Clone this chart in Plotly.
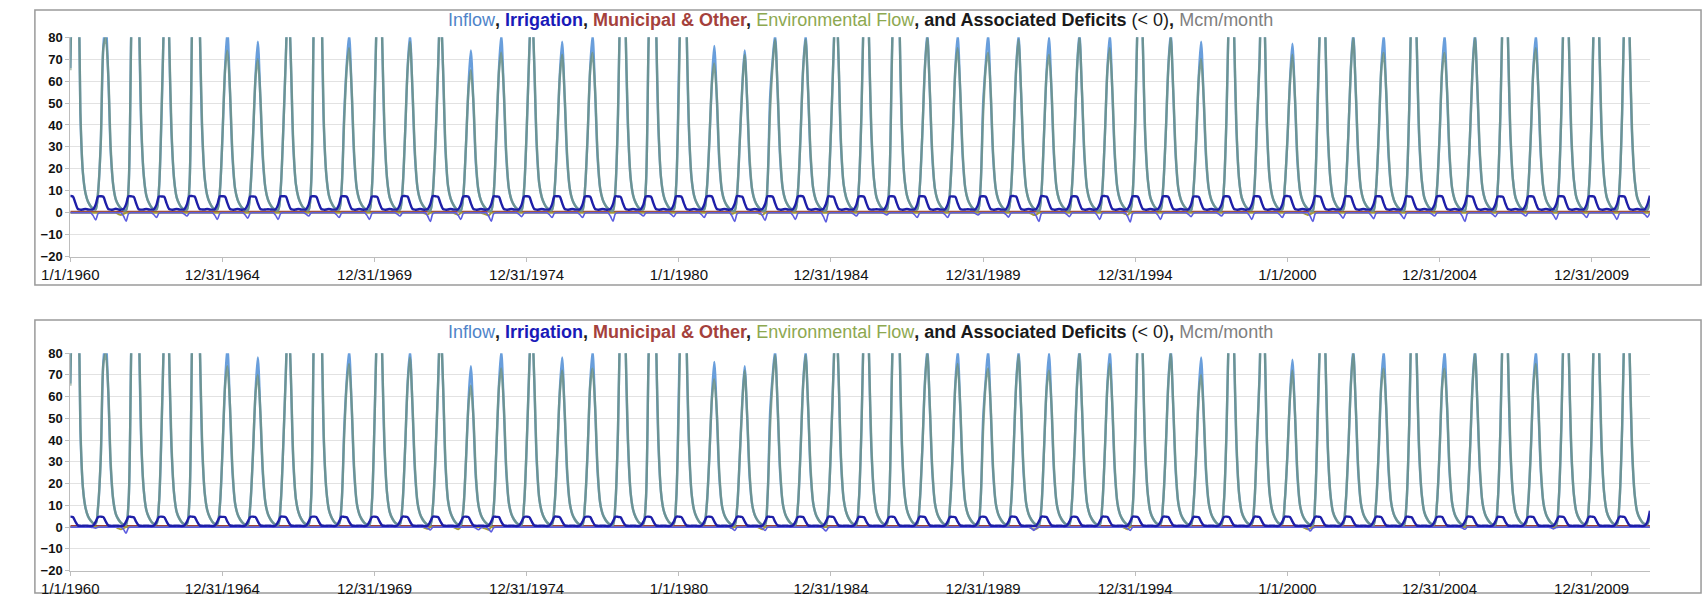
import pandas as pd
import plotly.graph_objects as go

# ---------------------------------------------------------------------------
# Monthly series, Mcm/month, January 1960 - December 2011 (one row per year)
# ---------------------------------------------------------------------------
inflow = [
    [66, 130, 170, 135, 45, 18, 9, 5, 3, 1.8, 1.5, 10],        # 1960
    [32, 76, 86, 62, 27, 12, 6, 3.5, 2, 1.2, 1.2, 12],         # 1961
    [82, 140, 165, 100, 40, 17, 8, 4.5, 2.5, 1.5, 1.5, 11],    # 1962
    [45, 95, 140, 80, 35, 15, 7, 4, 2.2, 1.4, 1.4, 12],        # 1963
    [85, 150, 130, 88, 38, 16, 8, 4.5, 2.5, 1.5, 1.5, 10],     # 1964
    [35, 66, 83, 55, 25, 11, 6, 3.5, 2, 1.2, 1.2, 10],         # 1965
    [33, 62, 78, 52, 24, 11, 6, 3.5, 2, 1.2, 1.2, 11],         # 1966
    [38, 72, 102, 70, 30, 13, 7, 4, 2.2, 1.3, 1.3, 13],        # 1967
    [88, 150, 170, 105, 40, 17, 8, 4.5, 2.5, 1.5, 1.5, 11],    # 1968
    [45, 68, 81, 55, 25, 11, 6, 3.5, 2, 1.2, 1.2, 12],         # 1969
    [50, 100, 130, 80, 35, 15, 7, 4, 2.2, 1.4, 1.4, 10],       # 1970
    [35, 66, 81, 55, 25, 11, 6, 3.5, 2, 1.2, 1.0, 9],          # 1971
    [32, 65, 96, 66, 28, 12, 6.5, 3.8, 2, 1.1, 1.0, 8],        # 1972
    [30, 58, 74, 50, 22, 10, 5.5, 3.2, 1.8, 1, 1.0, 9],        # 1973
    [35, 65, 81, 55, 25, 11, 6, 3.5, 2, 1.2, 1.2, 11],         # 1974
    [38, 74, 100, 68, 30, 13, 7, 4, 2.2, 1.3, 1.3, 10],        # 1975
    [33, 62, 78, 52, 24, 11, 6, 3.5, 2, 1.2, 1.2, 11],         # 1976
    [35, 66, 81, 55, 25, 11, 6, 3.5, 2, 1.2, 1.0, 11],         # 1977
    [45, 110, 150, 85, 38, 16, 8, 4.5, 2.5, 1.5, 1.5, 12],     # 1978
    [75, 130, 160, 90, 38, 16, 8, 4.5, 2.5, 1.5, 1.5, 13],     # 1979
    [63, 120, 160, 88, 38, 16, 8, 4.5, 2.5, 1.5, 1.5, 10],     # 1980
    [32, 60, 76, 52, 23, 10, 5.5, 3.2, 1.8, 1, 0.9, 9],        # 1981
    [32, 58, 74, 50, 22, 10, 5.5, 3.2, 1.8, 1, 1.0, 14],       # 1982
    [53, 70, 81, 55, 25, 11, 6, 3.5, 2, 1.2, 1.2, 10],         # 1983
    [35, 66, 81, 55, 25, 11, 6, 3.5, 2, 1.2, 1.0, 11],         # 1984
    [38, 74, 102, 70, 30, 13, 7, 4, 2.2, 1.3, 1.3, 12],        # 1985
    [45, 100, 130, 80, 35, 15, 7, 4, 2.2, 1.4, 1.4, 13],       # 1986
    [70, 120, 150, 90, 38, 16, 8, 4.5, 2.5, 1.5, 1.5, 11],     # 1987
    [35, 66, 82, 55, 25, 11, 6, 3.5, 2, 1.2, 1.2, 11],         # 1988
    [35, 66, 81, 55, 25, 11, 6, 3.5, 2, 1.2, 1.2, 12],         # 1989
    [50, 68, 81, 55, 25, 11, 6, 3.5, 2, 1.2, 1.2, 10],         # 1990
    [35, 66, 81, 55, 25, 11, 6, 3.5, 2, 1.2, 0.9, 9],          # 1991
    [35, 64, 80, 55, 25, 11, 6, 3.5, 2, 1.2, 1.2, 11],         # 1992
    [35, 66, 82, 55, 25, 11, 6, 3.5, 2, 1.2, 1.0, 10],         # 1993
    [35, 66, 81, 55, 25, 11, 6, 3.5, 2, 1.2, 0.9, 9],          # 1994
    [42, 95, 120, 78, 34, 15, 7, 4, 2.2, 1.4, 1.4, 11],        # 1995
    [35, 66, 82, 55, 25, 11, 6, 3.5, 2, 1.2, 1.2, 11],         # 1996
    [33, 62, 78, 52, 24, 11, 6, 3.5, 2, 1.2, 1.2, 12],         # 1997
    [45, 100, 130, 82, 36, 15, 7, 4, 2.2, 1.4, 1.4, 11],       # 1998
    [40, 70, 112, 88, 38, 16, 8, 4.5, 2.5, 1.5, 1.5, 12],      # 1999
    [33, 60, 77, 52, 23, 10, 5.5, 3.2, 1.8, 1, 0.9, 14],       # 2000
    [55, 95, 125, 80, 35, 15, 7, 4, 2.2, 1.4, 1.4, 11],        # 2001
    [35, 66, 82, 55, 25, 11, 6, 3.5, 2, 1.2, 1.0, 11],         # 2002
    [35, 66, 81, 55, 25, 11, 6, 3.5, 2, 1.2, 1.0, 11],         # 2003
    [45, 100, 120, 78, 34, 15, 7, 4, 2.2, 1.4, 1.4, 11],       # 2004
    [35, 66, 81, 55, 25, 11, 6, 3.5, 2, 1.2, 0.9, 11],         # 2005
    [35, 66, 82, 55, 25, 11, 6, 3.5, 2, 1.2, 1.2, 12],         # 2006
    [45, 100, 125, 80, 35, 15, 7, 4, 2.2, 1.4, 1.4, 11],       # 2007
    [35, 66, 81, 55, 25, 11, 6, 3.5, 2, 1.2, 1.0, 12],         # 2008
    [45, 100, 125, 80, 35, 15, 7, 4, 2.2, 1.4, 1.4, 12],       # 2009
    [45, 100, 125, 80, 35, 15, 7, 4, 2.2, 1.4, 1.4, 12],       # 2010
    [45, 100, 125, 80, 35, 15, 7, 4, 2.2, 1.4, 1.4, 6],        # 2011
]

environmental_flow = [
    [65, 128, 167, 133, 47, 18, 9, 5, 3, 1.8, 1.5, 10],
    [32, 75, 80, 63, 29, 12, 6, 3.5, 2, 1.2, 1.2, 12],
    [80, 138, 162, 101, 42, 17, 8, 4.5, 2.5, 1.5, 1.5, 11],
    [47, 93, 138, 82, 37, 15, 7, 4, 2.2, 1.4, 1.4, 12],
    [84, 148, 128, 90, 40, 16, 8, 4.5, 2.5, 1.5, 1.5, 10],
    [35, 65, 74, 56, 27, 11, 6, 3.5, 2, 1.2, 1.2, 10],
    [33, 61, 70, 53, 26, 11, 6, 3.5, 2, 1.2, 1.2, 11],
    [38, 71, 100, 71, 32, 13, 7, 4, 2.2, 1.3, 1.3, 13],
    [86, 148, 168, 106, 42, 17, 8, 4.5, 2.5, 1.5, 1.5, 11],
    [42, 66, 75, 56, 27, 11, 6, 3.5, 2, 1.2, 1.2, 12],
    [50, 98, 128, 81, 37, 15, 7, 4, 2.2, 1.4, 1.4, 10],
    [35, 65, 78, 56, 27, 11, 6, 3.5, 2, 1.2, 1.0, 9],
    [32, 64, 94, 67, 30, 12, 6.5, 3.8, 2, 1.1, 1.0, 8],
    [30, 56, 65, 51, 24, 10, 5.5, 3.2, 1.8, 1, 1.0, 9],
    [35, 64, 73, 56, 27, 11, 6, 3.5, 2, 1.2, 1.2, 11],
    [38, 73, 98, 69, 32, 13, 7, 4, 2.2, 1.3, 1.3, 10],
    [33, 61, 72, 53, 26, 11, 6, 3.5, 2, 1.2, 1.2, 11],
    [35, 65, 73, 56, 27, 11, 6, 3.5, 2, 1.2, 1.0, 11],
    [45, 108, 148, 86, 40, 16, 8, 4.5, 2.5, 1.5, 1.5, 12],
    [74, 128, 158, 91, 40, 16, 8, 4.5, 2.5, 1.5, 1.5, 13],
    [56, 118, 158, 89, 40, 16, 8, 4.5, 2.5, 1.5, 1.5, 10],
    [32, 59, 68, 53, 25, 10, 5.5, 3.2, 1.8, 1, 0.9, 9],
    [32, 57, 72, 51, 24, 10, 5.5, 3.2, 1.8, 1, 1.0, 14],
    [47, 68, 79, 56, 27, 11, 6, 3.5, 2, 1.2, 1.2, 10],
    [35, 65, 79, 56, 27, 11, 6, 3.5, 2, 1.2, 1.0, 11],
    [38, 73, 100, 71, 32, 13, 7, 4, 2.2, 1.3, 1.3, 12],
    [45, 98, 128, 81, 37, 15, 7, 4, 2.2, 1.4, 1.4, 13],
    [68, 118, 148, 91, 40, 16, 8, 4.5, 2.5, 1.5, 1.5, 11],
    [35, 65, 80, 56, 27, 11, 6, 3.5, 2, 1.2, 1.2, 11],
    [35, 65, 75, 56, 27, 11, 6, 3.5, 2, 1.2, 1.2, 12],
    [45, 66, 73, 56, 27, 11, 6, 3.5, 2, 1.2, 1.2, 10],
    [35, 65, 79, 56, 27, 11, 6, 3.5, 2, 1.2, 0.9, 9],
    [35, 63, 72, 56, 27, 11, 6, 3.5, 2, 1.2, 1.2, 11],
    [35, 65, 80, 56, 27, 11, 6, 3.5, 2, 1.2, 1.0, 10],
    [35, 65, 75, 56, 27, 11, 6, 3.5, 2, 1.2, 0.9, 9],
    [42, 93, 118, 79, 36, 15, 7, 4, 2.2, 1.4, 1.4, 11],
    [35, 65, 80, 56, 27, 11, 6, 3.5, 2, 1.2, 1.2, 11],
    [33, 61, 70, 53, 26, 11, 6, 3.5, 2, 1.2, 1.2, 12],
    [45, 98, 128, 83, 38, 15, 7, 4, 2.2, 1.4, 1.4, 11],
    [40, 69, 110, 89, 40, 16, 8, 4.5, 2.5, 1.5, 1.5, 12],
    [33, 59, 72, 53, 25, 10, 5.5, 3.2, 1.8, 1, 0.9, 14],
    [52, 93, 123, 81, 37, 15, 7, 4, 2.2, 1.4, 1.4, 11],
    [35, 65, 80, 56, 27, 11, 6, 3.5, 2, 1.2, 1.0, 11],
    [35, 65, 73, 56, 27, 11, 6, 3.5, 2, 1.2, 1.0, 11],
    [45, 98, 118, 79, 36, 15, 7, 4, 2.2, 1.4, 1.4, 11],
    [35, 65, 73, 56, 27, 11, 6, 3.5, 2, 1.2, 0.9, 11],
    [35, 65, 80, 56, 27, 11, 6, 3.5, 2, 1.2, 1.2, 12],
    [45, 98, 123, 81, 37, 15, 7, 4, 2.2, 1.4, 1.4, 11],
    [35, 65, 75, 56, 27, 11, 6, 3.5, 2, 1.2, 1.0, 12],
    [45, 98, 123, 81, 37, 15, 7, 4, 2.2, 1.4, 1.4, 12],
    [45, 98, 123, 81, 37, 15, 7, 4, 2.2, 1.4, 1.4, 12],
    [45, 98, 123, 81, 37, 15, 7, 4, 2.2, 1.4, 1.4, 6],
]

# Scenario 1 (upper chart): irrigation demand and its deficit
irrigation_1 = [
    [7.6, 7.4, 4.6, 1.7, 1.4, 1.5, 1.7, 1.5, 1.4, 1.6, 3.8, 7.4],
    [7.5, 7.3, 4.4, 1.7, 1.4, 1.5, 1.8, 1.5, 1.4, 1.7, 3.9, 7.5],
    [7.5, 7.2, 4.3, 1.6, 1.4, 1.5, 1.7, 1.5, 1.4, 1.6, 3.7, 7.4],
    [7.4, 7.3, 4.4, 1.7, 1.4, 1.5, 1.7, 1.5, 1.4, 1.6, 3.8, 7.5],
    [7.6, 7.4, 4.5, 1.7, 1.5, 1.5, 1.7, 1.5, 1.4, 1.6, 3.9, 7.5],
    [7.5, 7.3, 4.4, 1.7, 1.4, 1.5, 1.7, 1.5, 1.4, 1.7, 3.8, 7.4],
    [7.4, 7.2, 4.3, 1.7, 1.4, 1.5, 1.6, 1.5, 1.4, 1.6, 3.8, 7.5],
    [7.5, 7.4, 4.5, 1.7, 1.4, 1.5, 1.7, 1.5, 1.4, 1.6, 3.7, 7.4],
    [7.5, 7.3, 4.4, 1.7, 1.4, 1.5, 1.7, 1.5, 1.4, 1.6, 3.8, 7.5],
    [7.5, 7.3, 4.4, 1.7, 1.4, 1.5, 1.7, 1.5, 1.4, 1.7, 3.9, 7.4],
    [7.4, 7.2, 4.3, 1.7, 1.4, 1.5, 1.7, 1.5, 1.4, 1.6, 3.8, 7.5],
    [7.6, 7.4, 4.5, 1.7, 1.4, 1.5, 1.7, 1.5, 1.4, 1.7, 4.0, 7.6],
    [7.5, 7.3, 4.4, 1.7, 1.4, 1.5, 1.7, 1.5, 1.4, 1.6, 3.8, 7.4],
    [7.5, 7.3, 4.4, 1.7, 1.4, 1.5, 1.7, 1.5, 1.4, 1.7, 3.9, 7.5],
    [7.4, 7.3, 4.4, 1.7, 1.4, 1.5, 1.7, 1.5, 1.4, 1.6, 3.7, 7.4],
    [7.5, 7.3, 4.4, 1.7, 1.4, 1.5, 1.7, 1.5, 1.4, 1.6, 3.8, 7.5],
    [7.5, 7.4, 4.5, 1.7, 1.4, 1.5, 1.7, 1.5, 1.4, 1.6, 3.8, 7.4],
    [7.5, 7.3, 4.4, 1.7, 1.4, 1.5, 1.7, 1.5, 1.4, 1.7, 3.9, 7.5],
    [7.4, 7.2, 4.3, 1.7, 1.4, 1.5, 1.7, 1.5, 1.4, 1.6, 3.7, 7.4],
    [7.5, 7.3, 4.4, 1.7, 1.4, 1.5, 1.7, 1.5, 1.4, 1.6, 3.8, 7.5],
    [7.5, 7.3, 4.4, 1.7, 1.4, 1.5, 1.7, 1.5, 1.4, 1.6, 3.8, 7.4],
    [7.6, 7.4, 4.5, 1.7, 1.4, 1.5, 1.7, 1.5, 1.4, 1.7, 4.0, 7.6],
    [7.5, 7.3, 4.4, 1.7, 1.4, 1.5, 1.7, 1.5, 1.4, 1.7, 3.9, 7.5],
    [7.5, 7.3, 4.4, 1.7, 1.4, 1.5, 1.7, 1.5, 1.4, 1.6, 3.8, 7.4],
    [7.6, 7.4, 4.5, 1.7, 1.4, 1.5, 1.7, 1.5, 1.4, 1.7, 4.0, 7.5],
    [7.4, 7.2, 4.3, 1.7, 1.4, 1.5, 1.7, 1.5, 1.4, 1.6, 3.7, 7.4],
    [7.5, 7.3, 4.4, 1.7, 1.4, 1.5, 1.6, 1.5, 1.4, 1.6, 3.7, 7.4],
    [7.5, 7.3, 4.4, 1.7, 1.4, 1.5, 1.7, 1.5, 1.4, 1.6, 3.8, 7.5],
    [7.5, 7.3, 4.4, 1.7, 1.4, 1.5, 1.7, 1.5, 1.4, 1.6, 3.8, 7.4],
    [7.4, 7.2, 4.3, 1.7, 1.4, 1.5, 1.6, 1.5, 1.4, 1.6, 3.7, 7.4],
    [7.5, 7.3, 4.4, 1.7, 1.4, 1.5, 1.7, 1.5, 1.4, 1.6, 3.8, 7.5],
    [7.6, 7.4, 4.5, 1.7, 1.4, 1.5, 1.7, 1.5, 1.4, 1.7, 4.0, 7.6],
    [7.5, 7.3, 4.4, 1.7, 1.4, 1.5, 1.7, 1.5, 1.4, 1.6, 3.8, 7.4],
    [7.5, 7.3, 4.4, 1.7, 1.4, 1.5, 1.7, 1.5, 1.4, 1.7, 3.9, 7.5],
    [7.6, 7.4, 4.5, 1.7, 1.4, 1.5, 1.7, 1.5, 1.4, 1.7, 4.0, 7.5],
    [7.5, 7.3, 4.4, 1.7, 1.4, 1.5, 1.7, 1.5, 1.4, 1.7, 3.9, 7.5],
    [7.5, 7.3, 4.4, 1.7, 1.4, 1.5, 1.7, 1.5, 1.4, 1.6, 3.8, 7.4],
    [7.4, 7.2, 4.3, 1.7, 1.4, 1.5, 1.7, 1.5, 1.4, 1.6, 3.7, 7.4],
    [7.5, 7.3, 4.4, 1.7, 1.4, 1.5, 1.7, 1.5, 1.4, 1.7, 3.9, 7.5],
    [7.5, 7.3, 4.4, 1.7, 1.4, 1.5, 1.7, 1.5, 1.4, 1.6, 3.8, 7.5],
    [7.6, 7.4, 4.5, 1.7, 1.4, 1.5, 1.7, 1.5, 1.4, 1.7, 4.0, 7.6],
    [7.5, 7.3, 4.4, 1.7, 1.4, 1.5, 1.7, 1.5, 1.4, 1.6, 3.8, 7.5],
    [7.5, 7.3, 4.4, 1.7, 1.4, 1.5, 1.7, 1.5, 1.4, 1.6, 3.9, 7.5],
    [7.5, 7.3, 4.4, 1.7, 1.4, 1.5, 1.7, 1.5, 1.4, 1.6, 3.9, 7.5],
    [7.4, 7.2, 4.3, 1.7, 1.4, 1.5, 1.7, 1.5, 1.4, 1.6, 3.7, 7.4],
    [7.6, 7.4, 4.5, 1.7, 1.4, 1.5, 1.7, 1.5, 1.4, 1.7, 4.0, 7.6],
    [7.5, 7.3, 4.4, 1.7, 1.4, 1.5, 1.7, 1.5, 1.4, 1.6, 3.8, 7.4],
    [7.4, 7.2, 4.3, 1.7, 1.4, 1.5, 1.7, 1.5, 1.4, 1.6, 3.7, 7.4],
    [7.5, 7.3, 4.4, 1.7, 1.4, 1.5, 1.7, 1.5, 1.4, 1.7, 3.9, 7.5],
    [7.5, 7.3, 4.4, 1.7, 1.4, 1.5, 1.7, 1.5, 1.4, 1.6, 3.8, 7.5],
    [7.5, 7.3, 4.4, 1.7, 1.4, 1.5, 1.7, 1.5, 1.4, 1.7, 3.9, 7.5],
    [7.5, 7.3, 4.4, 1.7, 1.4, 1.5, 1.7, 1.5, 1.4, 1.6, 3.8, 7.8],
]

irrigation_deficit_1 = [
    [0, 0, 0, 0, 0, 0, 0, 0, 0, -1.3, -3.3, -0.3],
    [0, 0, 0, 0, 0, 0, 0, 0, 0, -1.5, -3.8, -0.4],
    [0, 0, 0, 0, 0, 0, 0, 0, 0, -0.9, -2.2, -0.2],
    [0, 0, 0, 0, 0, 0, 0, 0, 0, -0.6, -1.5, -0.1],
    [0, 0, 0, 0, 0, 0, 0, 0, 0, -1.2, -3.0, -0.3],
    [0, 0, 0, 0, 0, 0, 0, 0, 0, -1.0, -2.5, -0.2],
    [0, 0, 0, 0, 0, 0, 0, 0, 0, -1.2, -3.0, -0.3],
    [0, 0, 0, 0, 0, 0, 0, 0, 0, -0.6, -1.5, -0.1],
    [0, 0, 0, 0, 0, 0, 0, 0, 0, -0.9, -2.2, -0.2],
    [0, 0, 0, 0, 0, 0, 0, 0, 0, -1.2, -3.0, -0.3],
    [0, 0, 0, 0, 0, 0, 0, 0, 0, -0.6, -1.5, -0.1],
    [0, 0, 0, 0, 0, 0, 0, 0, 0, -1.6, -4.0, -0.4],
    [0, 0, 0, 0, 0, 0, 0, 0, 0, -1.2, -3.0, -0.3],
    [0, 0, 0, 0, 0, 0, 0, 0, 0, -1.5, -3.8, -0.4],
    [0, 0, 0, 0, 0, 0, 0, 0, 0, -0.7, -1.8, -0.2],
    [0, 0, 0, 0, 0, 0, 0, 0, 0, -0.9, -2.2, -0.2],
    [0, 0, 0, 0, 0, 0, 0, 0, 0, -0.9, -2.2, -0.2],
    [0, 0, 0, 0, 0, 0, 0, 0, 0, -1.5, -3.8, -0.4],
    [0, 0, 0, 0, 0, 0, 0, 0, 0, -0.6, -1.5, -0.1],
    [0, 0, 0, 0, 0, 0, 0, 0, 0, -0.7, -1.8, -0.2],
    [0, 0, 0, 0, 0, 0, 0, 0, 0, -0.9, -2.2, -0.2],
    [0, 0, 0, 0, 0, 0, 0, 0, 0, -1.6, -4.0, -0.4],
    [0, 0, 0, 0, 0, 0, 0, 0, 0, -1.4, -3.5, -0.3],
    [0, 0, 0, 0, 0, 0, 0, 0, 0, -1.2, -3.0, -0.3],
    [0, 0, 0, 0, 0, 0, 0, 0, 0, -1.7, -4.2, -0.4],
    [0, 0, 0, 0, 0, 0, 0, 0, 0, -0.6, -1.5, -0.1],
    [0, 0, 0, 0, 0, 0, 0, 0, 0, -0.4, -1.0, -0.1],
    [0, 0, 0, 0, 0, 0, 0, 0, 0, -0.9, -2.2, -0.2],
    [0, 0, 0, 0, 0, 0, 0, 0, 0, -0.9, -2.2, -0.2],
    [0, 0, 0, 0, 0, 0, 0, 0, 0, -0.4, -1.0, -0.1],
    [0, 0, 0, 0, 0, 0, 0, 0, 0, -0.8, -2.0, -0.2],
    [0, 0, 0, 0, 0, 0, 0, 0, 0, -1.6, -4.0, -0.4],
    [0, 0, 0, 0, 0, 0, 0, 0, 0, -0.7, -1.8, -0.2],
    [0, 0, 0, 0, 0, 0, 0, 0, 0, -1.2, -3.0, -0.3],
    [0, 0, 0, 0, 0, 0, 0, 0, 0, -1.7, -4.2, -0.4],
    [0, 0, 0, 0, 0, 0, 0, 0, 0, -1.2, -3.0, -0.3],
    [0, 0, 0, 0, 0, 0, 0, 0, 0, -0.7, -1.8, -0.2],
    [0, 0, 0, 0, 0, 0, 0, 0, 0, -0.6, -1.5, -0.1],
    [0, 0, 0, 0, 0, 0, 0, 0, 0, -1.2, -3.0, -0.3],
    [0, 0, 0, 0, 0, 0, 0, 0, 0, -0.9, -2.2, -0.2],
    [0, 0, 0, 0, 0, 0, 0, 0, 0, -1.6, -4.0, -0.4],
    [0, 0, 0, 0, 0, 0, 0, 0, 0, -1.0, -2.5, -0.2],
    [0, 0, 0, 0, 0, 0, 0, 0, 0, -1.1, -2.7, -0.3],
    [0, 0, 0, 0, 0, 0, 0, 0, 0, -1.1, -2.7, -0.3],
    [0, 0, 0, 0, 0, 0, 0, 0, 0, -0.6, -1.5, -0.1],
    [0, 0, 0, 0, 0, 0, 0, 0, 0, -1.6, -4.0, -0.4],
    [0, 0, 0, 0, 0, 0, 0, 0, 0, -0.7, -1.8, -0.2],
    [0, 0, 0, 0, 0, 0, 0, 0, 0, -0.6, -1.5, -0.1],
    [0, 0, 0, 0, 0, 0, 0, 0, 0, -1.2, -3.0, -0.3],
    [0, 0, 0, 0, 0, 0, 0, 0, 0, -0.9, -2.2, -0.2],
    [0, 0, 0, 0, 0, 0, 0, 0, 0, -1.2, -3.0, -0.3],
    [0, 0, 0, 0, 0, 0, 0, 0, 0, -0.8, -2.0, -0.2],
]

# Scenario 2 (lower chart): reduced irrigation demand and its deficit
irrigation_2 = [
    [4.8, 4.6, 2.6, 0.8, 0.6, 0.6, 0.7, 0.6, 0.5, 0.7, 2.5, 4.7],
    [4.8, 4.6, 2.6, 0.8, 0.6, 0.6, 0.7, 0.6, 0.5, 0.7, 2.6, 4.8],
    [4.7, 4.5, 2.5, 0.8, 0.6, 0.6, 0.7, 0.6, 0.5, 0.7, 2.5, 4.7],
    [4.8, 4.6, 2.6, 0.8, 0.6, 0.6, 0.7, 0.6, 0.5, 0.7, 2.5, 4.8],
    [4.8, 4.6, 2.6, 0.8, 0.6, 0.6, 0.7, 0.6, 0.5, 0.7, 2.6, 4.7],
    [4.7, 4.6, 2.5, 0.8, 0.6, 0.6, 0.7, 0.6, 0.5, 0.7, 2.5, 4.7],
    [4.8, 4.6, 2.6, 0.8, 0.6, 0.6, 0.7, 0.6, 0.5, 0.7, 2.5, 4.8],
    [4.8, 4.6, 2.6, 0.8, 0.6, 0.6, 0.7, 0.6, 0.5, 0.7, 2.5, 4.7],
    [4.8, 4.7, 2.6, 0.8, 0.6, 0.6, 0.7, 0.6, 0.5, 0.7, 2.6, 4.8],
    [4.7, 4.5, 2.5, 0.8, 0.6, 0.6, 0.7, 0.6, 0.5, 0.7, 2.5, 4.7],
    [4.8, 4.6, 2.6, 0.8, 0.6, 0.6, 0.7, 0.6, 0.5, 0.7, 2.5, 4.8],
    [4.8, 4.6, 2.6, 0.8, 0.6, 0.6, 0.7, 0.6, 0.5, 0.7, 2.6, 4.8],
    [4.8, 4.6, 2.6, 0.8, 0.6, 0.6, 0.7, 0.6, 0.5, 0.7, 2.5, 4.7],
    [4.8, 4.6, 2.6, 0.8, 0.6, 0.6, 0.7, 0.6, 0.5, 0.7, 2.6, 4.8],
    [4.7, 4.6, 2.5, 0.8, 0.6, 0.6, 0.7, 0.6, 0.5, 0.7, 2.5, 4.7],
    [4.8, 4.6, 2.6, 0.8, 0.6, 0.6, 0.7, 0.6, 0.5, 0.7, 2.5, 4.8],
    [4.8, 4.6, 2.6, 0.8, 0.6, 0.6, 0.7, 0.6, 0.5, 0.7, 2.5, 4.7],
    [4.8, 4.7, 2.6, 0.8, 0.6, 0.6, 0.7, 0.6, 0.5, 0.7, 2.6, 4.8],
    [4.7, 4.5, 2.5, 0.8, 0.6, 0.6, 0.7, 0.6, 0.5, 0.7, 2.5, 4.7],
    [4.8, 4.6, 2.6, 0.8, 0.6, 0.6, 0.7, 0.6, 0.5, 0.7, 2.5, 4.8],
    [4.8, 4.6, 2.6, 0.8, 0.6, 0.6, 0.7, 0.6, 0.5, 0.7, 2.5, 4.7],
    [4.8, 4.6, 2.6, 0.8, 0.6, 0.6, 0.7, 0.6, 0.5, 0.7, 2.6, 4.8],
    [4.8, 4.6, 2.6, 0.8, 0.6, 0.6, 0.7, 0.6, 0.5, 0.7, 2.6, 4.8],
    [4.7, 4.6, 2.5, 0.8, 0.6, 0.6, 0.7, 0.6, 0.5, 0.7, 2.5, 4.7],
    [4.8, 4.6, 2.6, 0.8, 0.6, 0.6, 0.7, 0.6, 0.5, 0.7, 2.6, 4.8],
    [4.8, 4.6, 2.6, 0.8, 0.6, 0.6, 0.7, 0.6, 0.5, 0.7, 2.5, 4.7],
    [4.7, 4.5, 2.5, 0.8, 0.6, 0.6, 0.7, 0.6, 0.5, 0.7, 2.5, 4.7],
    [4.8, 4.6, 2.6, 0.8, 0.6, 0.6, 0.7, 0.6, 0.5, 0.7, 2.5, 4.8],
    [4.8, 4.6, 2.6, 0.8, 0.6, 0.6, 0.7, 0.6, 0.5, 0.7, 2.5, 4.7],
    [4.7, 4.5, 2.5, 0.8, 0.6, 0.6, 0.7, 0.6, 0.5, 0.7, 2.5, 4.7],
    [4.8, 4.6, 2.6, 0.8, 0.6, 0.6, 0.7, 0.6, 0.5, 0.7, 2.5, 4.8],
    [4.8, 4.6, 2.6, 0.8, 0.6, 0.6, 0.7, 0.6, 0.5, 0.7, 2.6, 4.8],
    [4.8, 4.6, 2.6, 0.8, 0.6, 0.6, 0.7, 0.6, 0.5, 0.7, 2.5, 4.7],
    [4.8, 4.6, 2.6, 0.8, 0.6, 0.6, 0.7, 0.6, 0.5, 0.7, 2.6, 4.8],
    [4.8, 4.7, 2.6, 0.8, 0.6, 0.6, 0.7, 0.6, 0.5, 0.7, 2.6, 4.8],
    [4.8, 4.6, 2.6, 0.8, 0.6, 0.6, 0.7, 0.6, 0.5, 0.7, 2.5, 4.8],
    [4.8, 4.6, 2.6, 0.8, 0.6, 0.6, 0.7, 0.6, 0.5, 0.7, 2.5, 4.7],
    [4.7, 4.5, 2.5, 0.8, 0.6, 0.6, 0.7, 0.6, 0.5, 0.7, 2.5, 4.7],
    [4.8, 4.6, 2.6, 0.8, 0.6, 0.6, 0.7, 0.6, 0.5, 0.7, 2.6, 4.8],
    [4.8, 4.6, 2.6, 0.8, 0.6, 0.6, 0.7, 0.6, 0.5, 0.7, 2.5, 4.8],
    [4.8, 4.7, 2.6, 0.8, 0.6, 0.6, 0.7, 0.6, 0.5, 0.7, 2.6, 4.8],
    [4.8, 4.6, 2.6, 0.8, 0.6, 0.6, 0.7, 0.6, 0.5, 0.7, 2.5, 4.8],
    [4.8, 4.6, 2.6, 0.8, 0.6, 0.6, 0.7, 0.6, 0.5, 0.7, 2.6, 4.8],
    [4.8, 4.6, 2.6, 0.8, 0.6, 0.6, 0.7, 0.6, 0.5, 0.7, 2.6, 4.8],
    [4.7, 4.5, 2.5, 0.8, 0.6, 0.6, 0.7, 0.6, 0.5, 0.7, 2.5, 4.7],
    [4.8, 4.7, 2.6, 0.8, 0.6, 0.6, 0.7, 0.6, 0.5, 0.7, 2.6, 4.8],
    [4.8, 4.6, 2.6, 0.8, 0.6, 0.6, 0.7, 0.6, 0.5, 0.7, 2.5, 4.7],
    [4.7, 4.5, 2.5, 0.8, 0.6, 0.6, 0.7, 0.6, 0.5, 0.7, 2.5, 4.7],
    [4.8, 4.6, 2.6, 0.8, 0.6, 0.6, 0.7, 0.6, 0.5, 0.7, 2.6, 4.8],
    [4.8, 4.6, 2.6, 0.8, 0.6, 0.6, 0.7, 0.6, 0.5, 0.7, 2.5, 4.8],
    [4.8, 4.6, 2.6, 0.8, 0.6, 0.6, 0.7, 0.6, 0.5, 0.7, 2.6, 4.8],
    [4.8, 4.6, 2.6, 0.8, 0.6, 0.6, 0.7, 0.6, 0.5, 0.7, 2.5, 7.5],
]

irrigation_deficit_2 = [
    [0, 0, 0, 0, 0, 0, 0, 0, 0, -0.2, -0.5, 0],
    [0, 0, 0, 0, 0, 0, 0, 0, 0, -1.0, -2.8, -0.2],
    [0, 0, 0, 0, 0, 0, 0, 0, 0, 0, 0, 0],
    [0, 0, 0, 0, 0, 0, 0, 0, 0, 0, 0, 0],
    [0, 0, 0, 0, 0, 0, 0, 0, 0, 0, 0, 0],
    [0, 0, 0, 0, 0, 0, 0, 0, 0, 0, 0, 0],
    [0, 0, 0, 0, 0, 0, 0, 0, 0, 0, 0, 0],
    [0, 0, 0, 0, 0, 0, 0, 0, 0, 0, 0, 0],
    [0, 0, 0, 0, 0, 0, 0, 0, 0, 0, 0, 0],
    [0, 0, 0, 0, 0, 0, 0, 0, 0, 0, 0, 0],
    [0, 0, 0, 0, 0, 0, 0, 0, 0, 0, 0, 0],
    [0, 0, 0, 0, 0, 0, 0, 0, 0, -0.5, -1.3, -0.1],
    [0, 0, 0, 0, 0, 0, 0, 0, 0, 0, 0, 0],
    [0, 0, 0, 0, -0.5, -1.2, -0.3, 0, 0, -0.8, -2.2, -0.2],
    [0, 0, 0, 0, 0, 0, 0, 0, 0, 0, 0, 0],
    [0, 0, 0, 0, 0, 0, 0, 0, 0, 0, 0, 0],
    [0, 0, 0, 0, 0, 0, 0, 0, 0, 0, 0, 0],
    [0, 0, 0, 0, 0, 0, 0, 0, 0, 0, 0, 0],
    [0, 0, 0, 0, 0, 0, 0, 0, 0, 0, 0, 0],
    [0, 0, 0, 0, 0, 0, 0, 0, 0, 0, 0, 0],
    [0, 0, 0, 0, 0, 0, 0, 0, 0, 0, 0, 0],
    [0, 0, 0, 0, 0, 0, 0, 0, 0, -0.6, -1.5, -0.1],
    [0, 0, 0, 0, 0, 0, 0, 0, 0, -0.6, -1.5, -0.1],
    [0, 0, 0, 0, 0, 0, 0, 0, 0, 0, 0, 0],
    [0, 0, 0, 0, 0, 0, 0, 0, 0, -0.7, -1.8, -0.2],
    [0, 0, 0, 0, 0, 0, 0, 0, 0, 0, 0, 0],
    [0, 0, 0, 0, 0, 0, 0, 0, 0, 0, 0, 0],
    [0, 0, 0, 0, 0, 0, 0, 0, 0, 0, 0, 0],
    [0, 0, 0, 0, 0, 0, 0, 0, 0, 0, 0, 0],
    [0, 0, 0, 0, 0, 0, 0, 0, 0, 0, 0, 0],
    [0, 0, 0, 0, 0, 0, 0, 0, 0, 0, 0, 0],
    [0, 0, 0, 0, 0, 0, 0, -0.5, -1.5, -0.4, 0, 0],
    [0, 0, 0, 0, 0, 0, 0, 0, 0, 0, 0, 0],
    [0, 0, 0, 0, 0, 0, 0, 0, 0, 0, 0, 0],
    [0, 0, 0, 0, 0, 0, 0, 0, 0, -0.6, -1.5, -0.1],
    [0, 0, 0, 0, 0, 0, 0, 0, 0, 0, 0, 0],
    [0, 0, 0, 0, 0, 0, 0, 0, 0, 0, 0, 0],
    [0, 0, 0, 0, 0, 0, 0, 0, 0, 0, 0, 0],
    [0, 0, 0, 0, 0, 0, 0, 0, 0, 0, 0, 0],
    [0, 0, 0, 0, 0, 0, 0, 0, 0, 0, 0, 0],
    [0, 0, 0, 0, 0, 0, 0, 0, -0.5, -1.8, -0.5, 0],
    [0, 0, 0, 0, 0, 0, 0, 0, 0, 0, 0, 0],
    [0, 0, 0, 0, 0, 0, 0, 0, 0, 0, 0, 0],
    [0, 0, 0, 0, 0, 0, 0, 0, 0, 0, 0, 0],
    [0, 0, 0, 0, 0, 0, 0, 0, 0, 0, 0, 0],
    [0, 0, 0, 0, 0, 0, 0, 0, 0, -0.4, -1.0, 0],
    [0, 0, 0, 0, 0, 0, 0, 0, 0, 0, 0, 0],
    [0, 0, 0, 0, 0, 0, 0, 0, 0, 0, 0, 0],
    [0, 0, 0, 0, 0, 0, 0, 0, -0.3, -0.8, -0.2, 0],
    [0, 0, 0, 0, 0, 0, 0, 0, 0, 0, 0, 0],
    [0, 0, 0, 0, 0, 0, 0, 0, 0, 0, 0, 0],
    [0, 0, 0, 0, 0, 0, 0, 0, 0, 0, 0, 0],
]

# Environmental-flow deficit (same in both scenarios)
env_flow_deficit = [
    [0, 0, 0, 0, 0, 0, 0, 0, 0, 0, 0, 0],
    [0, 0, 0, 0, 0, 0, 0, -0.6, -1.0, -0.5, 0, 0],
    [0, 0, 0, 0, 0, 0, 0, 0, 0, 0, 0, 0],
    [0, 0, 0, 0, 0, 0, 0, 0, 0, 0, 0, 0],
    [0, 0, 0, 0, 0, 0, 0, 0, 0, 0, 0, 0],
    [0, 0, 0, 0, 0, 0, 0, 0, 0, 0, 0, 0],
    [0, 0, 0, 0, 0, 0, 0, 0, 0, 0, 0, 0],
    [0, 0, 0, 0, 0, 0, 0, 0, 0, 0, 0, 0],
    [0, 0, 0, 0, 0, 0, 0, 0, 0, 0, 0, 0],
    [0, 0, 0, 0, 0, 0, 0, 0, 0, 0, 0, 0],
    [0, 0, 0, 0, 0, 0, 0, 0, 0, 0, 0, 0],
    [0, 0, 0, 0, 0, 0, 0, 0, -0.4, -0.8, 0, 0],
    [0, 0, 0, 0, 0, 0, 0, 0, -0.5, -1.0, 0, 0],
    [0, 0, 0, 0, 0, 0, 0, -0.4, -0.8, -1.2, 0, 0],
    [0, 0, 0, 0, 0, 0, 0, 0, 0, 0, 0, 0],
    [0, 0, 0, 0, 0, 0, 0, 0, 0, 0, 0, 0],
    [0, 0, 0, 0, 0, 0, 0, 0, 0, 0, 0, 0],
    [0, 0, 0, 0, 0, 0, 0, 0, 0, 0, 0, 0],
    [0, 0, 0, 0, 0, 0, 0, 0, 0, 0, 0, 0],
    [0, 0, 0, 0, 0, 0, 0, 0, 0, 0, 0, 0],
    [0, 0, 0, 0, 0, 0, 0, 0, 0, 0, 0, 0],
    [0, 0, 0, 0, 0, 0, 0, 0, 0, -0.5, 0, 0],
    [0, 0, 0, 0, 0, 0, 0, 0, -0.5, -1.0, 0, 0],
    [0, 0, 0, 0, 0, 0, 0, 0, 0, 0, 0, 0],
    [0, 0, 0, 0, 0, 0, 0, 0, 0, 0, 0, 0],
    [0, 0, 0, 0, 0, 0, 0, 0, 0, 0, 0, 0],
    [0, 0, 0, 0, 0, 0, 0, 0, 0, 0, 0, 0],
    [0, 0, 0, 0, 0, 0, 0, 0, 0, 0, 0, 0],
    [0, 0, 0, 0, 0, 0, 0, 0, 0, 0, 0, 0],
    [0, 0, 0, 0, 0, 0, 0, 0, 0, 0, 0, 0],
    [0, 0, 0, 0, 0, 0, 0, 0, 0, 0, 0, 0],
    [0, 0, 0, 0, 0, 0, 0, -0.4, -1.0, -0.8, 0, 0],
    [0, 0, 0, 0, 0, 0, 0, 0, 0, 0, 0, 0],
    [0, 0, 0, 0, 0, 0, 0, 0, 0, 0, 0, 0],
    [0, 0, 0, 0, 0, 0, 0, 0, -0.5, -1.0, 0, 0],
    [0, 0, 0, 0, 0, 0, 0, 0, 0, 0, 0, 0],
    [0, 0, 0, 0, 0, 0, 0, 0, 0, 0, 0, 0],
    [0, 0, 0, 0, 0, 0, 0, 0, 0, 0, 0, 0],
    [0, 0, 0, 0, 0, 0, 0, 0, 0, 0, 0, 0],
    [0, 0, 0, 0, 0, 0, 0, 0, 0, 0, 0, 0],
    [0, 0, 0, 0, 0, 0, 0, -0.5, -1.0, -0.6, 0, 0],
    [0, 0, 0, 0, 0, 0, 0, 0, 0, 0, 0, 0],
    [0, 0, 0, 0, 0, 0, 0, 0, 0, 0, 0, 0],
    [0, 0, 0, 0, 0, 0, 0, 0, 0, 0, 0, 0],
    [0, 0, 0, 0, 0, 0, 0, 0, 0, 0, 0, 0],
    [0, 0, 0, 0, 0, 0, 0, 0, 0, 0, 0, 0],
    [0, 0, 0, 0, 0, 0, 0, 0, 0, 0, 0, 0],
    [0, 0, 0, 0, 0, 0, 0, 0, 0, 0, 0, 0],
    [0, 0, 0, 0, 0, 0, 0, 0, 0, 0, 0, 0],
    [0, 0, 0, 0, 0, 0, 0, 0, 0, 0, 0, 0],
    [0, 0, 0, 0, 0, 0, 0, 0, 0, 0, 0, 0],
    [0, 0, 0, 0, 0, 0, 0, 0, 0, 0, 0, 0],
]

# Municipal & other demand: a flat 0.5 Mcm/month in every month
municipal_monthly = [0.5, 0.5, 0.5, 0.5, 0.5, 0.5, 0.5, 0.5, 0.5, 0.5, 0.5, 0.5]

tick_dates = ["1960-01-01", "1964-12-31", "1969-12-31", "1974-12-31", "1980-01-01",
              "1984-12-31", "1989-12-31", "1994-12-31", "2000-01-01", "2004-12-31",
              "2009-12-31"]
tick_labels = ["1/1/1960", "12/31/1964", "12/31/1969", "12/31/1974", "1/1/1980",
               "12/31/1984", "12/31/1989", "12/31/1994", "1/1/2000", "12/31/2004",
               "12/31/2009"]
y_ticks = [-20, -10, 0, 10, 20, 30, 40, 50, 60, 70, 80]

# ---------------------------------------------------------------------------
def flat(rows):
    return [v for row in rows for v in row]


n_years = len(inflow)
months = pd.date_range("1960-01-01", periods=n_years * 12, freq="MS")
municipal = [v for _ in range(n_years) for v in municipal_monthly]

C_INFLOW = "#6A9FDC"
C_ENV = "#6E8F78"
C_IRR = "#1E1EA8"
C_IRR_DEF = "#5C5CE0"
C_MUNI = "#A0403A"
C_ENV_DEF = "#A49B3A"
FONT = "Liberation Sans, Arial, sans-serif"

fig = go.Figure()


def line(y, color, width, xa, ya, opacity=1.0):
    fig.add_trace(go.Scatter(
        x=months, y=y, mode="lines", xaxis=xa, yaxis=ya,
        line=dict(color=color, width=width, shape="spline", smoothing=0.8),
        opacity=opacity, showlegend=False, hoverinfo="skip"))


panels = [("x", "y", irrigation_1, irrigation_deficit_1),
          ("x2", "y2", irrigation_2, irrigation_deficit_2)]
for xa, ya, irr, irr_def in panels:
    line(municipal, C_MUNI, 1.8, xa, ya)
    line(flat(env_flow_deficit), C_ENV_DEF, 2.0, xa, ya)
    line(flat(inflow), C_INFLOW, 2.4, xa, ya)
    line(flat(environmental_flow), C_ENV, 2.4, xa, ya, opacity=0.72)
    line(flat(irr_def), C_IRR_DEF, 1.6, xa, ya)
    line(flat(irr), C_IRR, 2.4, xa, ya)

W, H = 1703, 602
x_dom = [42 / W, 1649 / W]
y_dom_top = [1 - 256 / H, 1 - 31 / H]
y_dom_bot = [1 - 578 / H, 1 - 355 / H]

x_common = dict(
    range=["1960-01-01", "2011-12-01"], tickmode="array",
    tickvals=tick_dates, ticktext=tick_labels, showgrid=False,
    showline=True, linecolor="#BDBDBD", linewidth=1,
    ticks="outside", ticklen=4, tickcolor="#BDBDBD",
    tickfont=dict(family=FONT, size=15, color="#111111"),
    zeroline=False, domain=x_dom,
)
y_common = dict(
    range=[-20, 80], tickmode="array", tickvals=y_ticks,
    showgrid=True, gridcolor="#E2E2E2", gridwidth=1,
    showline=True, linecolor="#BDBDBD", linewidth=1,
    ticks="outside", ticklen=4, tickcolor="#BDBDBD",
    tickfont=dict(family=FONT, size=13, color="#111111", weight="bold"),
    zeroline=False,
)

fig.update_layout(
    width=W, height=H, margin=dict(l=0, r=0, t=0, b=0),
    paper_bgcolor="white", plot_bgcolor="white",
    xaxis=dict(anchor="y", **x_common),
    yaxis=dict(anchor="x", domain=y_dom_top, **y_common),
    xaxis2=dict(anchor="y2", **x_common),
    yaxis2=dict(anchor="x2", domain=y_dom_bot, **y_common),
)

title_html = (
    "<span style='color:#4F84C9'>Inflow</span><b>, </b>"
    "<b><span style='color:#1A1AB8'>Irrigation</span>, </b>"
    "<b><span style='color:#A4413C'>Municipal &amp; Other</span>, </b>"
    "<span style='color:#8DA850'>Environmental Flow</span><b>, and Associated Deficits</b>"
    " (&lt; 0)<b>,</b> <span style='color:#808080'>Mcm/month</span>"
)
for y_px in (13, 333):
    fig.add_annotation(
        x=(x_dom[0] + x_dom[1]) / 2, y=1 - y_px / H, xref="paper", yref="paper",
        text=title_html, showarrow=False, xanchor="center", yanchor="middle",
        font=dict(family=FONT, size=18, color="#1A1A1A"))

# framing boxes around each chart
for top_px, bot_px in ((3, 285), (321, 601)):
    fig.add_shape(type="rect", xref="paper", yref="paper",
                  x0=6 / W, x1=1701 / W, y0=1 - bot_px / H, y1=1 - top_px / H,
                  line=dict(color="#9A9A9A", width=1.5), fillcolor="rgba(0,0,0,0)",
                  layer="below")

fig.write_html("out.html")
